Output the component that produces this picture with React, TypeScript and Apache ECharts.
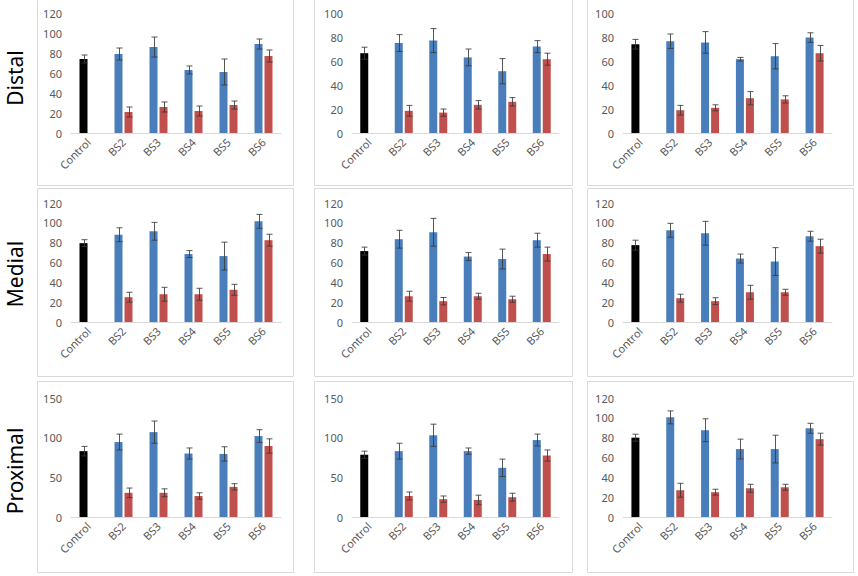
import React, { useEffect, useRef } from "react";
import * as echarts from "echarts";

const categories = ["Control", "BS2", "BS3", "BS4", "BS5", "BS6"];
const rowLabels = ["Distal", "Medial", "Proximal"];

// panels in reading order: row (Distal, Medial, Proximal) x column (1..3)
const controlMean = [74, 66.5, 74, 79.5, 71.5, 77.5, 83, 78.5, 80];
const controlErr = [4, 5, 4, 3.5, 4, 5, 6, 4.5, 3.5];

const blueMean = [
  [79, 86, 63, 61, 89],
  [75, 77, 63, 51.5, 72],
  [76.5, 75.5, 61.5, 64, 79.5],
  [88, 91.5, 68.5, 66.5, 101.5],
  [83.5, 90.5, 66, 63.5, 82.5],
  [92.5, 89.5, 64, 61, 86.5],
  [94.5, 107, 80, 79.5, 102],
  [83, 103, 83, 62, 97],
  [100.5, 87.5, 68.5, 68.5, 89.5],
];
const blueErr = [
  [6, 10, 4, 13, 5],
  [7, 10, 7, 10.5, 5],
  [6, 9, 1.5, 10.5, 4],
  [7, 9, 3.5, 14, 7],
  [9, 14, 4, 10, 7],
  [7, 12, 4.5, 14, 5],
  [10, 14, 7, 9, 8],
  [10, 14, 4, 11, 7.5],
  [6.5, 11.5, 10, 14, 5],
];
const redMean = [
  [21, 26, 22, 28, 77],
  [18.5, 17, 23.5, 26, 61.5],
  [19, 21, 29, 28, 66.5],
  [25, 28, 28, 32.5, 82.5],
  [26, 21, 26, 23, 68.5],
  [24, 21, 30, 30, 76.5],
  [30.5, 30.5, 26.5, 38, 89.5],
  [26.5, 22.5, 21.5, 25, 77.5],
  [27, 25, 29, 30, 78.5],
];
const redErr = [
  [5, 5, 5, 4, 6],
  [4.5, 3, 3.5, 3.5, 5],
  [4, 2.5, 5.5, 3, 6.5],
  [5, 7, 6, 5.5, 6],
  [5, 3.7, 3, 3, 7],
  [4, 3.5, 7, 3, 7],
  [6, 5, 4, 4, 9],
  [5, 4, 6, 5, 7],
  [7, 3, 4, 3, 6],
];
const yMax = [120, 100, 100, 120, 120, 120, 150, 150, 120];
const yStep = [20, 20, 20, 20, 20, 20, 50, 50, 20];

// layout
const colLeft = [71, 352, 623];
const colWidth = [210, 207, 209];
const rowTop = [13, 203, 398];
const rowHeight = [120, 119, 119];
const boxX = [[37, 293], [314, 572], [587, 853]];
const boxY = [[-1, 185], [188, 376], [381, 572]];
const labelY = [78, 274, 471];

const BLUE = "#4a7ebb";
const RED = "#c0504d";
const ERR = "#3a3a3a";
const TXT = "#595959";
const FONT = "'Noto Sans', 'Open Sans', sans-serif";

function errRender(offset: number) {
  return (params: any, api: any) => {
    const i = api.value(0);
    const v = api.value(1);
    const e = api.value(2);
    const hi = api.coord([i, v + e]);
    const lo = api.coord([i, v - e]);
    const x = Math.round(hi[0] + offset) + 0.5;
    const cap = 3;
    const style = { stroke: ERR, lineWidth: 1, opacity: 0.85 };
    return {
      type: "group",
      children: [
        { type: "line", shape: { x1: x, y1: hi[1], x2: x, y2: lo[1] }, style },
        { type: "line", shape: { x1: x - cap, y1: hi[1], x2: x + cap, y2: hi[1] }, style },
        { type: "line", shape: { x1: x - cap, y1: lo[1], x2: x + cap, y2: lo[1] }, style },
      ],
    };
  };
}

export default function App() {
  const ref = useRef<HTMLDivElement>(null);
  useEffect(() => {
    document.body.style.margin = "0";
    const chart = echarts.init(ref.current!, null, { renderer: "svg" });
    const grids: any[] = [];
    const xAxes: any[] = [];
    const yAxes: any[] = [];
    const series: any[] = [];
    const graphics: any[] = [];

    for (let r = 0; r < 3; r++) {
      for (let c = 0; c < 3; c++) {
        graphics.push({
          type: "rect",
          z: -10,
          shape: {
            x: boxX[c][0] + 0.5,
            y: boxY[r][0] + 0.5,
            width: boxX[c][1] - boxX[c][0],
            height: boxY[r][1] - boxY[r][0],
          },
          style: { fill: "#fff", stroke: "#d9d9d9", lineWidth: 1 },
        });
      }
      graphics.push({
        type: "text",
        x: 15,
        y: labelY[r],
        rotation: Math.PI / 2,
        style: {
          text: rowLabels[r],
          fill: "#000",
          font: `21px ${FONT}`,
          textAlign: "center",
          textVerticalAlign: "middle",
        },
      });
    }

    for (let p = 0; p < 9; p++) {
      const r = Math.floor(p / 3);
      const c = p % 3;
      grids.push({
        left: colLeft[c],
        top: rowTop[r],
        width: colWidth[c],
        height: rowHeight[r],
      });
      xAxes.push({
        type: "category",
        gridIndex: p,
        data: categories,
        axisLine: { lineStyle: { color: "#d9d9d9", width: 1 } },
        axisTick: { show: false },
        axisLabel: {
          rotate: 45,
          color: TXT,
          fontSize: 11,
          fontFamily: FONT,
          margin: 7,
          interval: 0,
        },
        z: 5,
      });
      yAxes.push({
        type: "value",
        gridIndex: p,
        min: 0,
        max: yMax[p],
        interval: yStep[p],
        axisLine: { show: false },
        axisTick: { show: false },
        splitLine: { show: false },
        axisLabel: { color: TXT, fontSize: 11, fontFamily: FONT, margin: 9 },
      });
      const blueData: any[] = [
        { value: controlMean[p], itemStyle: { color: "#000" } },
        ...blueMean[p],
      ];
      const redData: any[] = ["-", ...redMean[p]];
      series.push({
        type: "bar",
        xAxisIndex: p,
        yAxisIndex: p,
        data: blueData,
        barWidth: 8,
        barGap: "25%",
        itemStyle: { color: BLUE },
      });
      series.push({
        type: "bar",
        xAxisIndex: p,
        yAxisIndex: p,
        data: redData,
        barWidth: 8,
        barGap: "25%",
        itemStyle: { color: RED },
      });
      const blueErrData = [[0, controlMean[p], controlErr[p]]].concat(
        blueMean[p].map((v, i) => [i + 1, v, blueErr[p][i]])
      );
      const redErrData = redMean[p].map((v, i) => [i + 1, v, redErr[p][i]]);
      series.push({
        type: "custom",
        xAxisIndex: p,
        yAxisIndex: p,
        data: blueErrData,
        encode: { x: 0, y: 1 },
        renderItem: errRender(-5),
        z: 10,
      });
      series.push({
        type: "custom",
        xAxisIndex: p,
        yAxisIndex: p,
        data: redErrData,
        encode: { x: 0, y: 1 },
        renderItem: errRender(5),
        z: 10,
      });
    }

    chart.setOption({
      animation: false,
      backgroundColor: "#fff",
      graphic: graphics,
      grid: grids,
      xAxis: xAxes,
      yAxis: yAxes,
      series,
    });
    return () => chart.dispose();
  }, []);
  return <div ref={ref} style={{ width: 858, height: 576 }} />;
}
